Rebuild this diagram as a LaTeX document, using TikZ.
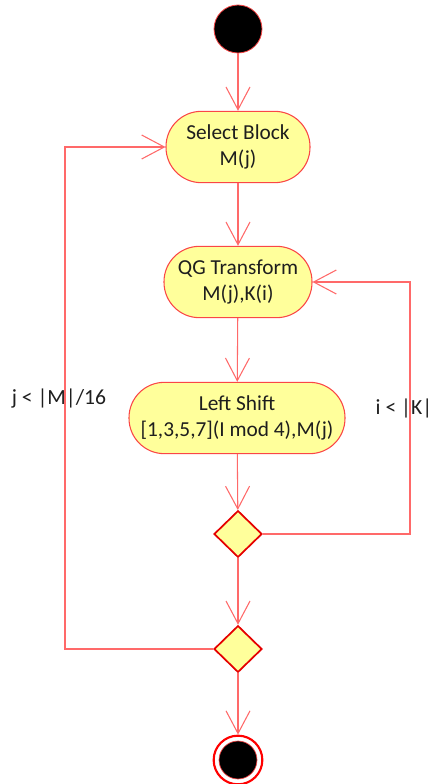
\documentclass[tikz,border=0pt]{standalone}
\usepackage{fontspec}
\setmainfont{Carlito}
\usetikzlibrary{arrows.meta,shapes.geometric}
\definecolor{linered}{RGB}{255,105,105}
\definecolor{edgered}{RGB}{250,70,70}
\definecolor{fillyel}{RGB}{255,255,155}
\definecolor{txt}{RGB}{30,30,30}
\tikzset{
  flow/.style={draw=linered,line width=0.8pt,-{Straight Barb[length=17pt,width=18pt]}},
  plain/.style={draw=linered,line width=0.8pt},
  act/.style={draw=edgered,fill=fillyel,line width=0.8pt,rounded corners=26.5pt,
    minimum height=53.5pt,inner sep=0pt,align=center,text=txt,
    font=\fontsize{16}{19.5}\selectfont},
  dec/.style={diamond,draw=red!90!black,fill=fillyel,line width=1.3pt,
    minimum width=36pt,minimum height=35pt,inner sep=0pt,shape aspect=1},
  lbl/.style={text=txt,font=\fontsize{16.2}{19.5}\selectfont,inner sep=0pt},
}
\begin{document}
\begin{tikzpicture}[x=0.75pt,y=-0.75pt]
\useasboundingbox (0,0) rectangle (431,784);
\node[circle,fill=black,draw=edgered,line width=0.6pt,minimum size=36pt,inner sep=0pt] (start) at (238,29) {};
\node[act,minimum width=108pt] (sel) at (238,147) {Select Block\\M(j)};
\node[act,minimum width=111pt] (qg) at (238,282) {QG Transform\\M(j),K(i)};
\node[act,minimum width=162pt] (ls) at (237,418) {Left Shift\\{}[1,3,5,7](I mod 4),M(j)};
\node[dec] (d1) at (238,534) {};
\node[dec] (d2) at (238,649) {};
\node[circle,draw=red,line width=1.6pt,fill=white,minimum size=36.5pt,inner sep=0pt] (endo) at (238,760) {};
\node[circle,fill=black,draw=edgered,line width=0.5pt,minimum size=28.5pt,inner sep=0pt] (endi) at (238,760) {};
\coordinate (rc) at (410,282);
\coordinate (lc) at (65,147);
\draw[flow] (start) -- (sel);
\draw[flow] (sel) -- (qg);
\draw[flow] (qg) -- (ls);
\draw[flow] (ls) -- (d1);
\draw[flow] (d1) -- (d2);
\draw[flow] (d2) -- (endo);
\draw[flow] (d1.east) -| (rc) -- (qg.east);
\draw[flow] (d2.west) -| (lc) -- (sel.west);
\node[lbl] (lj) at (59,399) {j < |M|/16};
\node[lbl] (li) at (404,408) {i < |K|};
\end{tikzpicture}
\end{document}
